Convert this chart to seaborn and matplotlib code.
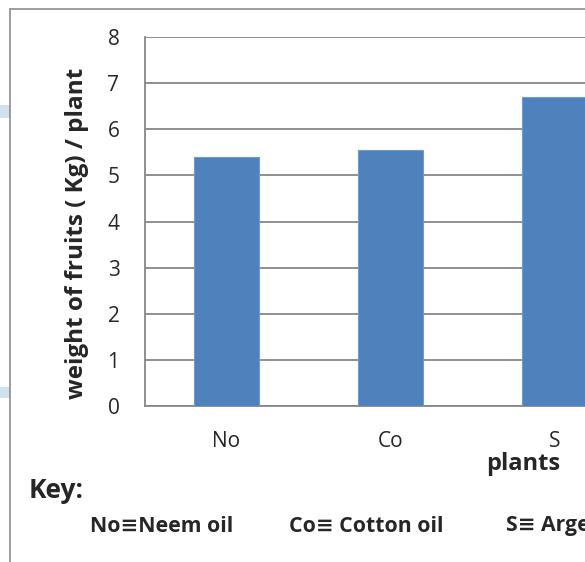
import matplotlib
matplotlib.use("Agg")
import matplotlib.pyplot as plt
import seaborn as sns
from matplotlib.patches import Rectangle
from matplotlib.lines import Line2D

# ----------------------------
# DATA
# ----------------------------
categories = ["No", "Co", "S"]
weights = [5.39, 5.55, 6.69]
key_labels = ["No≡Neem oil", "Co≡ Cotton oil", "S≡ Argemone oil"]

# ----------------------------
# STYLE
# ----------------------------
sns.set_style("white")
plt.rcParams["font.family"] = ["Open Sans", "DejaVu Sans"]

bar_color = "#4F81BD"
grid_color = "#878787"

fig = plt.figure(figsize=(5.85, 5.62), dpi=100)

# chart frame (cropped on the right and bottom)
fig.add_artist(Line2D([10 / 585, 10 / 585], [0, 1 - 9 / 562], color="#8c8c8c", lw=1.2))
fig.add_artist(Line2D([10 / 585, 1], [1 - 9 / 562, 1 - 9 / 562], color="#8c8c8c", lw=1.2))
# light blue bits from behind the chart
fig.add_artist(Rectangle((0, 1 - 118 / 562), 10 / 585, 13 / 562, color="#cfe2ee", lw=0))
fig.add_artist(Rectangle((0, 1 - 398 / 562), 10 / 585, 11 / 562, color="#cfe2ee", lw=0))

# axes extend past the right edge of the picture
ax = fig.add_axes([144.5 / 585, 156 / 562, 492 / 585, 369 / 562])

sns.barplot(x=categories, y=weights, color=bar_color, width=0.4,
            edgecolor="#6f9ad0", linewidth=0.8, saturation=1, ax=ax, zorder=3)

ax.set_xlim(-0.5, 2.5)
ax.set_ylim(0, 8)
ax.set_yticks(range(0, 9))
ax.yaxis.grid(True, color=grid_color, lw=1.3, zorder=0)
ax.set_axisbelow(True)

for side in ["top", "right"]:
    ax.spines[side].set_visible(False)
ax.spines["left"].set_color(grid_color)
ax.spines["bottom"].set_color(grid_color)
ax.spines["left"].set_linewidth(1.3)
ax.spines["bottom"].set_linewidth(1.3)

# category labels, ticks at boundaries
ax.set_xticks([0, 1, 2])
ax.set_xticklabels(categories)
ax.set_xticks([-0.5, 0.5, 1.5, 2.5], minor=True)
ax.tick_params(axis="x", which="major", length=0, pad=18, labelsize=15)
ax.tick_params(axis="x", which="minor", length=7, width=1.3, color=grid_color, direction="out")
ax.tick_params(axis="y", length=7, width=1.3, color=grid_color, direction="out", labelsize=15, pad=11)

ax.set_ylabel("")
ax.set_xlabel("")

# text labels
fig.text(77 / 585, 1 - 233 / 562, "weight of fruits ( Kg) / plant", rotation=90,
         ha="center", va="center", fontsize=17.5, fontweight="bold")
fig.text(523 / 585, 1 - 464 / 562, "plants", ha="center", va="center",
         fontsize=17, fontweight="bold")
fig.text(29 / 585, 1 - 490 / 562, "Key:", ha="left", va="center",
         fontsize=19, fontweight="bold")
for x, lab in zip([90, 289, 506], key_labels):
    fig.text(x / 585, 1 - 526 / 562, lab, ha="left", va="center",
             fontsize=15.3, fontweight="bold")

plt.savefig("out.png", dpi=100)
